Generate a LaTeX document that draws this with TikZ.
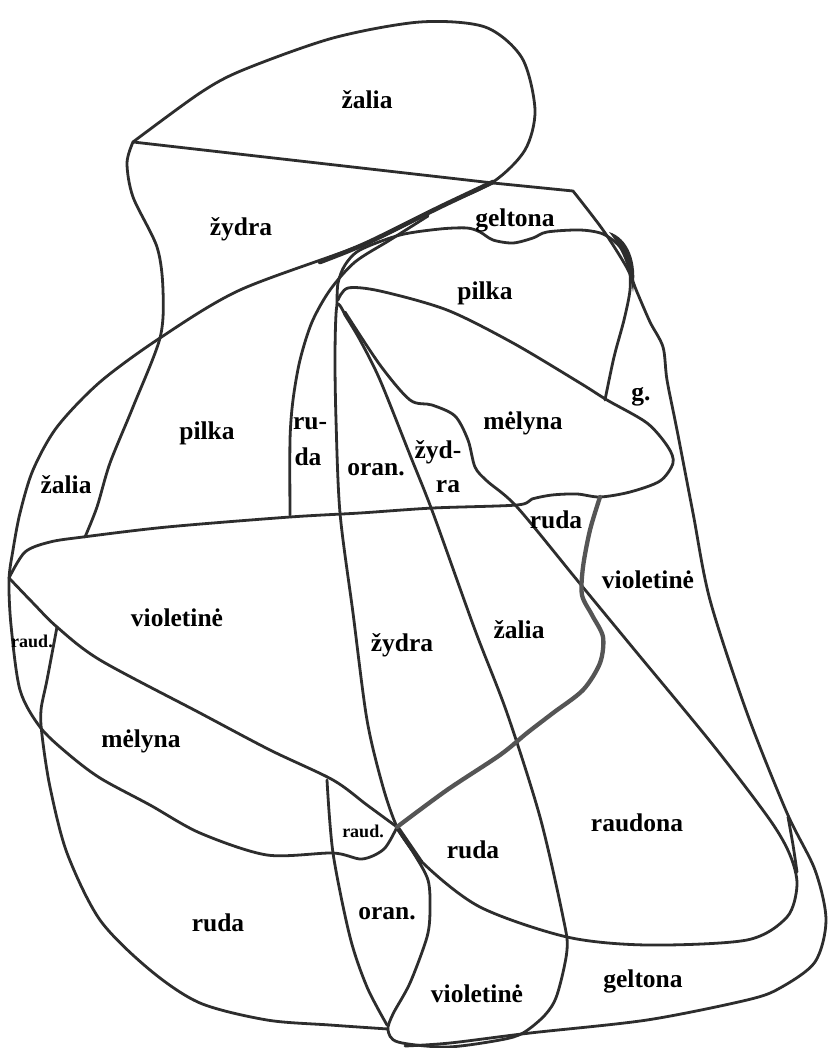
\documentclass[tikz,border=0pt]{standalone}
\usepackage{fontspec}
\setmainfont{Liberation Serif}
\definecolor{inkc}{RGB}{45,45,45}
\definecolor{inkg}{RGB}{85,85,85}
\begin{document}
\begin{tikzpicture}[x=1pt,y=-1pt,
  ln/.style={line width=2.8pt, draw=inkc, line cap=round, line join=round},
  thk/.style={line width=4.3pt, draw=inkg, line cap=round, line join=round},
  lbl/.style={font=\fontsize{25.5}{27}\selectfont\bfseries, text=black, inner sep=0pt},
  sml/.style={font=\fontsize{18}{20}\selectfont\bfseries, text=black, inner sep=0pt}]
\useasboundingbox[fill=white] (0,0) rectangle (827,1048);

% top loop, thick line, left arc, lower boundary of left melyna
\draw[ln] plot[smooth, tension=0.5] coordinates {(133,142) (200,93) (243,70) (333,38) (420,22) (485,27) (522,58) (535,110) (525,150) (493,182) (440,207) (367,243) (240,290) (160,338) (100,382) (57,427) (33,470) (20,513) (13,550) (9,580) (11,625) (20,690) (40,727) (67,753) (100,778) (150,805) (200,833) (267,855) (333,853) (362,859) (384,849) (397,827)};
\draw[line width=4.6pt, draw=inkc, line cap=round] plot[smooth] coordinates {(493,182) (440,207) (367,243) (320,262)};

% straight top line and right outer boundary
\draw[ln] (133,142) -- (493,183) -- (573,191) -- plot[smooth, tension=0.5] coordinates {(573,191) (603,230) (627,268) (637,292) (650,322) (663,347) (667,380) (677,430) (693,513) (710,600) (747,713) (787,813) (815,870) (826,920) (815,962) (780,988) (747,1000) (647,1020) (530,1033) (450,1043) (405,1046)};

% S-curve at the left of zydra
\draw[ln] plot[smooth, tension=0.5] coordinates {(133,142) (127,163) (133,197) (157,247) (163,290) (160,338) (133,407) (110,463) (97,507) (85,537)};

% lens top, ruda bump, melyna (right)
\draw[ln] plot[smooth, tension=0.5] coordinates {(9,578) (25,552) (50,542) (83,537) (167,527) (290,517) (360,513) (433,508) (517,505) (532,499) (552,495) (577,494) (600,497) (630,492) (660,481) (673,463) (668,447) (647,423) (607,400) (580,383) (513,343) (447,310) (380,291) (348,288) (338,300)};

% pilka upper boundary and g. line
\draw[ln] plot[smooth, tension=0.5] coordinates {(337,305) (338,283) (345,265) (360,250) (400,235) (440,229) (467,228) (480,232) (493,240) (513,243) (533,238) (547,232) (580,230) (603,234) (620,247) (629,267) (630,290) (624,320) (614,357) (605,400)};
\fill[inkc] (609,232) .. controls (628,238) and (638,262) .. (633,292) .. controls (629,268) and (622,248) .. (609,232) -- cycle;

% ru-da left line
\draw[ln] plot[smooth, tension=0.5] coordinates {(290,515) (290,440) (293,400) (300,360) (312,322) (330,290) (355,262) (390,240) (428,216)};

% oran./zydra column and zalia loop
\draw[ln] plot[smooth, tension=0.5] coordinates {(345,315) (337,305) (335,353) (336,420) (340,513) (353,613) (367,720) (383,787) (397,827) (413,852) (428,880) (430,910) (427,937) (410,983) (393,1014) (388,1030) (398,1042) (447,1047) (500,1040) (523,1033) (545,1015) (557,995) (567,950) (563,917) (540,817) (507,713) (475,630) (433,513) (410,455) (380,380) (360,340) (345,315)};

% wavy line A (melyna left boundary) down to raudona bottom
\draw[ln] plot[smooth, tension=0.5] coordinates {(345,312) (380,365) (410,400) (432,405) (455,416) (468,440) (475,467) (487,481) (517,507) (577,580) (633,648) (713,745) (770,820) (790,855) (797,885) (787,917) (747,940) (647,945) (567,937) (480,907) (423,863) (397,827)};
\draw[line width=4.6pt, draw=inkc, line cap=round] (397,827) -- (421,862);

% diagonal of the violetine lens
\draw[ln] plot[smooth, tension=0.5] coordinates {(9,578) (33,603) (57,627) (100,660) (200,713) (270,750) (333,780) (367,805) (397,827)};

% thick grey wavy boundary
\draw[thk] plot[smooth, tension=0.5] coordinates {(600,497) (590,530) (583,567) (582,595) (592,615) (603,637) (600,663) (583,690) (553,713) (527,733) (500,755) (447,790) (397,827)};

% small hook on the right
\draw[ln] plot[smooth] coordinates {(788,817) (793,845) (797,872)};

% raud./oran. left line
\draw[ln] plot[smooth, tension=0.5] coordinates {(327,780) (333,853) (350,937) (367,987) (387,1025)};

% raud. left line and outer ruda boundary
\draw[ln] plot[smooth, tension=0.5] coordinates {(57,627) (47,680) (41,710) (42,735) (50,787) (67,853) (100,920) (150,970) (200,1003) (267,1020) (330,1025) (388,1029)};

% labels
\node[lbl] (t1) at (367,100) {žalia};
\node[lbl] (t2) at (241,229) {žydra};
\node[lbl] (t3) at (515,220) {geltona};
\node[lbl] (t4) at (485,293) {pilka};
\node[lbl] (t5) at (641,397) {g.};
\node[lbl] (t6) at (523,423) {mėlyna};
\node[lbl] (t7) at (310,424) {ru-};
\node[lbl] (t8) at (308,457) {da};
\node[lbl] (t9) at (376,470) {oran.};
\node[lbl] (t10) at (438,452) {žyd-};
\node[lbl] (t11) at (448,487) {ra};
\node[lbl] (t12) at (207,433) {pilka};
\node[lbl] (t13) at (66,485) {žalia};
\node[lbl] (t14) at (556,520) {ruda};
\node[lbl] (t15) at (648,580) {violetinė};
\node[lbl] (t16) at (177,618) {violetinė};
\node[sml] (t17) at (32,641) {raud.};
\node[lbl] (t18) at (402,645) {žydra};
\node[lbl] (t19) at (519,630) {žalia};
\node[lbl] (t20) at (141,741) {mėlyna};
\node[sml] (t21) at (363,831) {raud.};
\node[lbl] (t22) at (473,850) {ruda};
\node[lbl] (t23) at (637,823) {raudona};
\node[lbl] (t24) at (387,914) {oran.};
\node[lbl] (t25) at (218,923) {ruda};
\node[lbl] (t26) at (643,981) {geltona};
\node[lbl] (t27) at (477,994) {violetinė};
\end{tikzpicture}
\end{document}
